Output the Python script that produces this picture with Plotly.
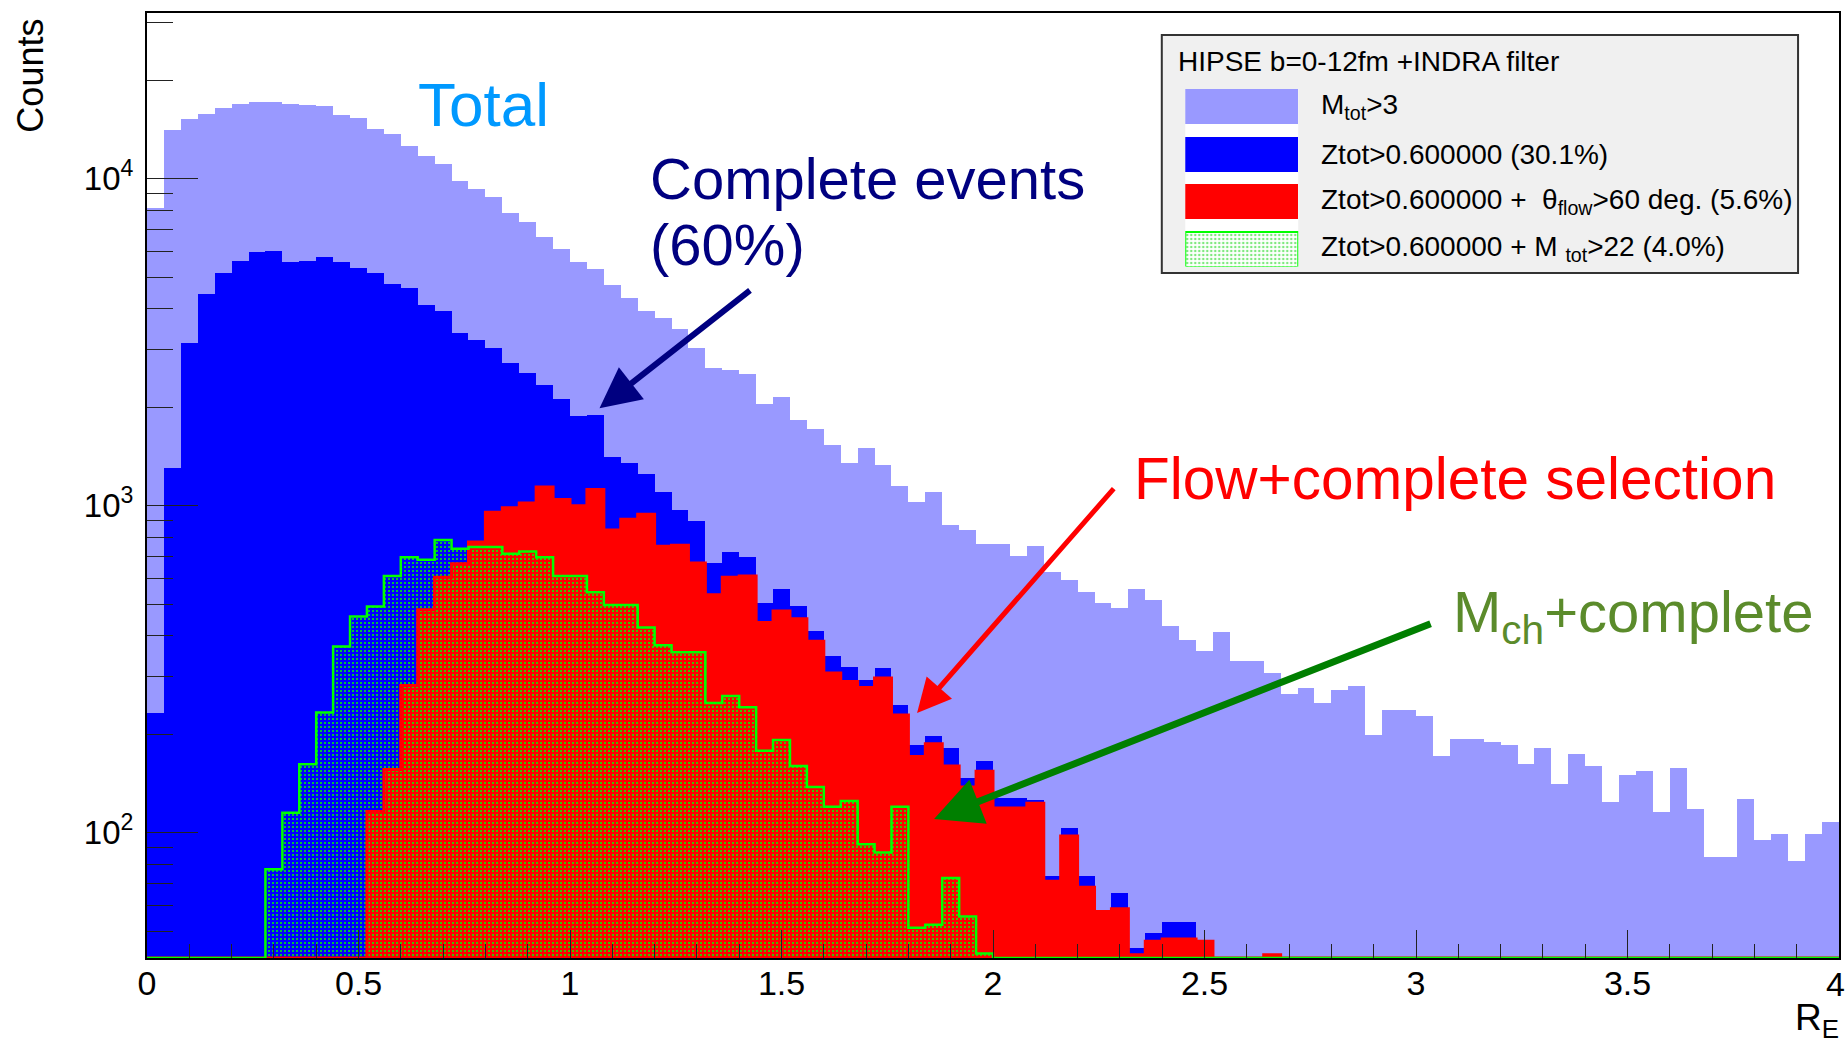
import numpy as np
import plotly.graph_objects as go

# ---------------- histogram binning ----------------
x_lo, x_hi, n_bins = 0.0, 4.0, 100
edges = np.linspace(x_lo, x_hi, n_bins + 1)
centers = 0.5 * (edges[:-1] + edges[1:])
bin_w = edges[1] - edges[0]

# ---------------- bin contents ----------------
# M_tot > 3 (all events)
h_total = [8150, 14130, 15240, 15820, 16480, 16990, 17150, 17150, 16990, 16820,
           16670, 15630, 15350, 14200, 13710, 12560, 11710, 11090, 9810, 9320,
           8790, 7880, 7400, 6650, 6100, 5550, 5280, 4730, 4307, 3948,
           3742, 3464, 3032, 2636, 2605, 2533, 2052, 2150, 1835, 1722,
           1533, 1348, 1497, 1329, 1150, 1023, 1105, 871, 845, 762,
           762, 700, 753, 627, 592, 545, 504, 486, 555, 514,
           430, 388, 360, 412, 336, 336, 307, 266, 277, 250,
           274, 280, 199, 238, 238, 228, 172, 193, 194, 190,
           185, 162, 181, 141, 174, 160, 124, 150, 154, 116,
           158, 118, 84, 84, 127, 95, 99, 82, 99, 108]

# Ztot > 0.6 (complete events)
h_complete = [232, 1302, 3155, 4440, 5140, 5610, 5955, 6025, 5560, 5610,
              5775, 5560, 5345, 5160, 4765, 4625, 4108, 3935, 3386, 3210,
              3026, 2735, 2548, 2345, 2123, 1880, 1897, 1413, 1350, 1250,
              1105, 970, 897, 670, 721, 696, 504, 558, 494, 413,
              347, 322, 293, 318, 246, 185, 198, 182, 147, 166,
              128, 128, 126, 73.5, 103, 73.8, 57.4, 65.4, 44.4, 49.4,
              53.4, 53.4, 46.5, 0, 0, 0, 42.3, 0, 0, 0,
              0, 0, 0, 0, 0, 0, 0, 0, 0, 0,
              0, 0, 0, 0, 0, 0, 0, 0, 0, 0,
              0, 0, 0, 0, 0, 0, 0, 0, 0, 0]

# Ztot > 0.6 + theta_flow > 60 deg
h_flow = [0, 0, 0, 0, 0, 0, 0, 0, 0, 0,
          0, 0, 0, 116, 156, 282, 481, 604, 665, 775,
          955, 985, 1020, 1141, 1044, 1000, 1120, 843, 909, 942,
          751, 757, 668, 534, 604, 609, 439, 476, 451, 385,
          308, 290, 278, 297, 229, 171, 187, 160, 138, 154,
          119, 119, 123, 71, 97.7, 68.1, 57.4, 58.5, 42.3, 46.5,
          47.3, 47.3, 46.5, 0, 0, 0, 42.3, 0, 0, 0,
          0, 0, 0, 0, 0, 0, 0, 0, 0, 0,
          0, 0, 0, 0, 0, 0, 0, 0, 0, 0,
          0, 0, 0, 0, 0, 0, 0, 0, 0, 0]

# Ztot > 0.6 + M_tot > 22
h_mult = [0, 0, 0, 0, 0, 0, 0, 77.3, 115, 162,
          233, 371, 458, 492, 610, 695, 683, 785, 738, 747,
          747, 713, 724, 695, 610, 610, 544, 497, 497, 424,
          374, 356, 356, 249, 262, 242, 178, 192, 160, 138,
          120, 125, 92.2, 87, 120, 51.2, 52.3, 72.6, 55.4, 42.7,
          0, 0, 0, 0, 0, 0, 0, 0, 0, 0,
          0, 0, 0, 0, 0, 0, 0, 0, 0, 0,
          0, 0, 0, 0, 0, 0, 0, 0, 0, 0,
          0, 0, 0, 0, 0, 0, 0, 0, 0, 0,
          0, 0, 0, 0, 0, 0, 0, 0, 0, 0]

legend_title = "HIPSE b=0-12fm +INDRA filter"
legend_labels = ["M<sub>tot</sub>>3",
                 "Ztot>0.600000 (30.1%)",
                 "Ztot>0.600000 +  θ<sub>flow</sub>>60 deg. (5.6%)",
                 "Ztot>0.600000 + M <sub>tot</sub>>22 (4.0%)"]

x_ticks = [0, 0.5, 1, 1.5, 2, 2.5, 3, 3.5, 4]
x_ticktext = ["0", "0.5", "1", "1.5", "2", "2.5", "3", "3.5", "4"]
y_ticks = [1e2, 1e3, 1e4]
y_ticktext = ["10<sup>2</sup>", "10<sup>3</sup>", "10<sup>4</sup>"]

# ---------------- styling ----------------
C_TOTAL = "#9999ff"
C_COMPLETE = "#0000ff"
C_FLOW = "#ff0000"
C_MULT = "#00ff00"
FONT = "Liberation Sans, Arial, sans-serif"
X_TICK_SIZE = 34

W, H = 1848, 1047
L, R, T, B = 147, 7, 13, 89
y_log_lo, y_log_hi = 1.6166, 4.507
y_floor = 10 ** y_log_lo
plot_w, plot_h = W - L - R, H - T - B


def px_to_paper(px, py):
    return (px - L) / plot_w, (H - B - py) / plot_h


def step_outline(vals):
    v = [max(val, y_floor) for val in vals]
    xs = [edges[0]] + list(edges)
    ys = [y_floor] + v + [v[-1]]
    return xs, ys


fig = go.Figure()

for vals, col in [(h_total, C_TOTAL), (h_complete, C_COMPLETE), (h_flow, C_FLOW)]:
    fig.add_trace(go.Bar(x=centers, y=vals, width=bin_w,
                         marker=dict(color=col, line=dict(width=0)),
                         showlegend=False, hoverinfo="skip"))

# red outline (visible along the floor where the flow selection is empty)
xs, ys = step_outline(h_flow)
fig.add_trace(go.Scatter(x=xs, y=ys, mode="lines", line=dict(color=C_FLOW, width=3, shape="hv"),
                         showlegend=False, hoverinfo="skip"))

# dotted multiplicity-selection histogram
fig.add_trace(go.Bar(x=centers, y=h_mult, width=bin_w,
                     marker=dict(color=C_MULT, line=dict(width=0),
                                 pattern=dict(shape=".", size=4, solidity=0.2, fillmode="replace")),
                     showlegend=False, hoverinfo="skip"))
xs, ys = step_outline(h_mult)
fig.add_trace(go.Scatter(x=xs, y=ys, mode="lines", line=dict(color=C_MULT, width=2.5, shape="hv"),
                         showlegend=False, hoverinfo="skip"))

# ---------------- legend key boxes (inset axes) ----------------
sw_x0, sw_x1 = px_to_paper(1186.5, 0)[0], px_to_paper(1299.6, 0)[0]
sw_ytop, sw_ybot = px_to_paper(0, 89)[1], px_to_paper(0, 266.5)[1]
sw_frac = 35 / 47.5
key_styles = [dict(color=C_TOTAL), dict(color=C_COMPLETE), dict(color=C_FLOW),
              dict(color=C_MULT, pattern=dict(shape=".", size=4, solidity=0.3,
                                              fgcolor="#00d000", bgcolor="#ffffff"),
                   line=dict(color=C_MULT, width=2))]
for i, st in enumerate(key_styles):
    m = dict(st)
    m.setdefault("line", dict(width=0))
    fig.add_trace(go.Bar(x=[1], y=[i], width=sw_frac, orientation="h", marker=m,
                         xaxis="x2", yaxis="y2", showlegend=False, hoverinfo="skip"))

minor_y = [d * 10 ** k for k in range(1, 5) for d in range(2, 10)
           if y_log_lo <= np.log10(d * 10 ** k) <= y_log_hi]

# the last x label sits flush with the page edge, so it is placed separately
x_ticktext_axis = x_ticktext[:-1] + [""]

fig.update_layout(
    width=W, height=H,
    margin=dict(l=L, r=R, t=T, b=B),
    paper_bgcolor="white", plot_bgcolor="white",
    barmode="overlay", bargap=0,
    font=dict(family=FONT, color="black"),
    xaxis=dict(range=[x_lo, x_hi], showgrid=False, zeroline=False,
               showline=True, linecolor="black", linewidth=2, mirror=True,
               ticks="inside", ticklen=28, tickwidth=1.2, tickcolor="#222",
               tickmode="array", tickvals=x_ticks, ticktext=x_ticktext_axis,
               ticklabelstandoff=-6,
               tickfont=dict(family=FONT, size=X_TICK_SIZE, color="black"),
               minor=dict(ticks="inside", ticklen=14, tickwidth=1.2, tickcolor="#222", dtick=0.1, showgrid=False)),
    yaxis=dict(type="log", range=[y_log_lo, y_log_hi], showgrid=False, zeroline=False,
               showline=True, linecolor="black", linewidth=2, mirror=True,
               ticks="inside", ticklen=51, tickwidth=1.2, tickcolor="#222",
               tickmode="array", tickvals=y_ticks, ticktext=y_ticktext,
               ticklabelstandoff=5,
               tickfont=dict(family=FONT, size=33, color="black"),
               minor=dict(ticks="inside", ticklen=26, tickwidth=1.2, tickcolor="#222",
                          tickmode="array", tickvals=minor_y, showgrid=False)),
    xaxis2=dict(domain=[sw_x0, sw_x1], range=[0, 1], visible=False, anchor="y2", fixedrange=True),
    yaxis2=dict(domain=[sw_ybot, sw_ytop], range=[3 + sw_frac / 2, -sw_frac / 2],
                visible=False, anchor="x2", fixedrange=True),
)

# legend frame
bx0, by0 = px_to_paper(1163, 273)
bx1, by1 = px_to_paper(1800, 35)
fig.add_shape(type="rect", xref="paper", yref="paper", x0=bx0, x1=bx1, y0=by0, y1=by1,
              fillcolor="#f0f0f0", line=dict(color="#333333", width=2), layer="below")

ann = []
tx, ty = px_to_paper(1177, 61)
ann.append(dict(x=tx, y=ty, text=legend_title, xanchor="left", yanchor="middle",
                font=dict(size=28, color="black")))
for i, lab in enumerate(legend_labels):
    lx, ly = px_to_paper(1320, 106.5 + 47.5 * i)
    ann.append(dict(x=lx, y=ly, text=lab, xanchor="left", yanchor="middle",
                    font=dict(size=28, color="black")))

# final x tick label at the right edge
ex, ey = px_to_paper(1849, 984)
ann.append(dict(x=ex, y=ey, text=x_ticktext[-1], xanchor="right", yanchor="middle",
                font=dict(size=X_TICK_SIZE, color="black")))

# axis titles
cx, cy = px_to_paper(30, 75.5)
ann.append(dict(x=cx, y=cy, text="Counts", textangle=-90, xanchor="center", yanchor="middle",
                font=dict(size=36, color="black")))
rx, ry = px_to_paper(1843, 1020)
ann.append(dict(x=rx, y=ry, text="R<sub>E</sub>", xanchor="right", yanchor="middle",
                font=dict(size=37, color="black")))

# text labels on the plot
for txt, col, (px, py), size in [
    ("Total", "#0099ff", (416, 104.5), 62),
    ("Complete events", "#000080", (649, 178.3), 58),
    ("(60%)", "#000080", (649, 244), 58),
    ("Flow+complete selection", "#ff0000", (1133, 478.5), 58.5),
    ("M<sub>ch</sub>+complete", "#5b8b2b", (1453, 616), 58),
]:
    ax_, ay_ = px_to_paper(px, py)
    ann.append(dict(x=ax_, y=ay_, text=txt, xanchor="left", yanchor="middle",
                    font=dict(size=size, color=col)))

# arrows pointing at the histograms
for (tx_, ty_), (dx, dy), col, wdt in [
    ((1.0697, 3.298), (152, -119), "#000080", 6),
    ((1.8205, 2.3656), (198, -226), "#ff0000", 5),
    ((1.8607, 2.0416), (498, -196), "#007f00", 7),
]:
    ann.append(dict(x=tx_, y=ty_, xref="x", yref="y", ax=dx, ay=dy, text="",
                    showarrow=True, arrowhead=2, arrowsize=1.35, arrowwidth=wdt,
                    arrowcolor=col, standoff=0))

for a in ann:
    a.setdefault("xref", "paper")
    a.setdefault("yref", "paper")
    a.setdefault("showarrow", False)
fig.update_layout(annotations=ann)

fig.write_html("out.html")
